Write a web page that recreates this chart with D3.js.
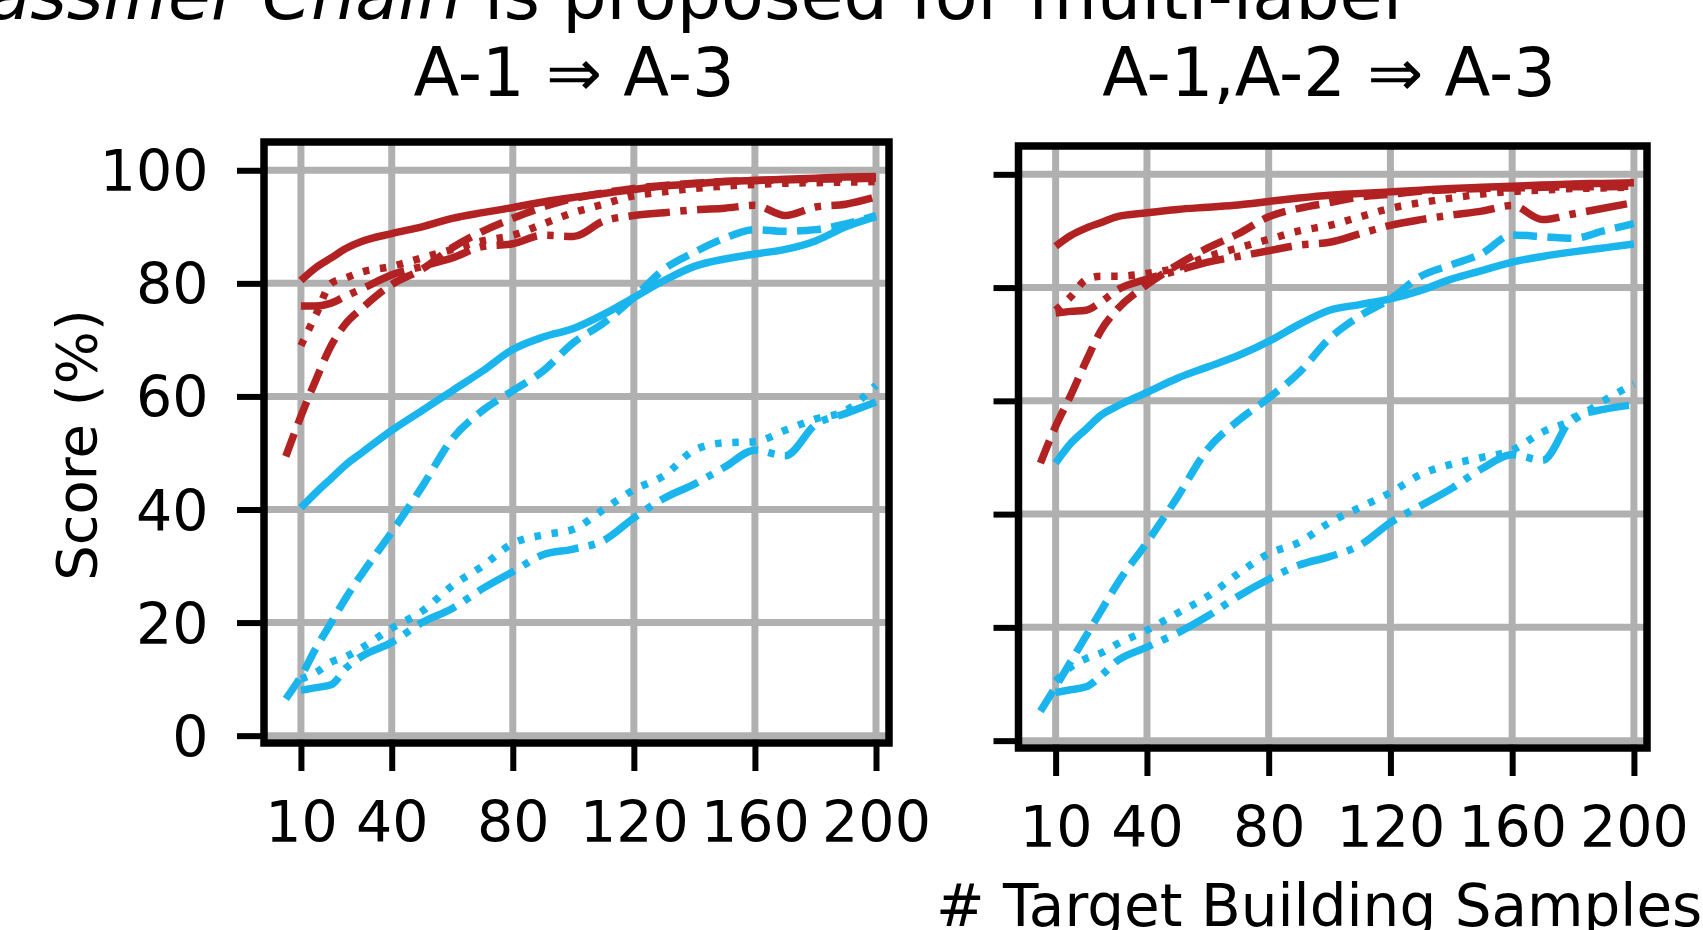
<!DOCTYPE html>
<html>
<head>
  <meta http-equiv="Content-type" content="text/html; charset=utf-8">
  <title>Score vs. target building samples</title>
  <script src="https://d3js.org/d3.v7.min.js"></script>
  <style>
  body { margin: 0; background: #fff; }
  svg { display: block; font-family: "DejaVu Sans", sans-serif; }
  </style>
</head>
<body>
<svg id="stage" width="1703" height="930"></svg>
<script>
// number of target building samples (x); null in a series = no point there
var samples = [5, 10, 15, 20, 25, 30, 40, 50, 60, 70, 80, 90, 100, 110, 120, 130, 140, 150, 160, 170, 180, 190, 200];

// panel 1: A-1 => A-3
var redSolidA    = [null, 80.5, 82.8, 84.5, 86.2, 87.4, 88.8, 90, 91.5, 92.5, 93.4, 94.4, 95.2, 95.9, 96.6, 97.2, 97.6, 98, 98.2, 98.4, 98.6, 98.8, 98.9];
var redDashA     = [49.4, 56.5, 63, 69, 73, 75.5, 79.8, 82.5, 86.3, 89.2, 91.5, 93.5, 95, 96, 96.8, 97.3, 97.7, 98, 98.2, 98.3, 98.4, 98.5, 98.6];
var redDotA      = [null, 69, 74.5, 80, 81, 82, 83, 84.5, 86, 87.5, 88.5, 90.5, 92.5, 94, 95.5, 96.2, 96.8, 97.2, 97.5, 97.7, 97.8, 97.9, 98];
var redDashDotA  = [null, 76, 76, 76.5, 77.8, 79, 81.5, 83, 84.5, 86.5, 87, 88.5, 88.3, 91, 92, 92.5, 93, 93.3, 93.8, 92, 93.5, 94, 95.3];
var cyanSolidA   = [null, 40.3, 43, 45.5, 48, 50, 54, 57.5, 61, 64.5, 68.3, 70.5, 72, 74.5, 77.5, 80.5, 83, 84.3, 85.2, 86, 87.5, 90, 91.8];
var cyanDashA    = [6.5, 10.5, 15.5, 20, 24.5, 28.5, 36, 44, 52.5, 57.5, 61, 64.5, 69.5, 73, 77.5, 82.5, 85.5, 88, 89.5, 89.2, 89.5, 90.5, 92];
var cyanDotA     = [null, 10, 11.2, 13, 14, 15.5, 19, 22, 26.5, 30, 34, 35.5, 36.5, 40, 43.5, 46, 50.5, 51.8, 52, 54, 56, 57.5, 62];
var cyanDashDotA = [null, 8, 8.5, 9, 12, 14, 16.5, 20, 22.5, 26, 29, 32, 33, 34.5, 38.5, 42, 44.5, 47.5, 50.5, 49.5, 55, 57, 59];

// panel 2: A-1,A-2 => A-3
var redSolidB    = [null, 87.3, 89.2, 90.5, 91.5, 92.5, 93.2, 93.8, 94.2, 94.6, 95.2, 95.8, 96.3, 96.6, 96.9, 97.2, 97.5, 97.7, 97.9, 98.1, 98.3, 98.4, 98.5];
var redDashB     = [49, 55.5, 61, 67, 72.5, 76, 80.5, 84, 87, 89.5, 92.5, 94, 95, 96, 96.5, 97, 97.3, 97.5, 97.6, 97.7, 97.8, 97.8, 97.9];
var redDotB      = [null, 76, 78.4, 81.4, 82, 82, 82.5, 83.5, 85.5, 87, 88.5, 90, 91, 92.5, 94, 95, 95.8, 96.5, 97, 97.2, 97.5, 97.6, 97.8];
var redDashDotB  = [null, 75.5, 75.8, 76, 77.5, 79.5, 81.5, 83, 84.5, 85.5, 86.5, 87.5, 88, 89.5, 91, 92, 92.8, 93.5, 94.5, 92, 93, 94, 95];
var cyanSolidB   = [null, 49, 52.5, 55, 57.5, 59, 61.5, 64, 66, 68, 70.5, 73.5, 76, 77, 78, 79.5, 81.5, 83, 84.5, 85.5, 86.3, 87, 87.7];
var cyanDashB    = [5.2, 9.5, 14, 18.5, 23, 27.5, 35, 43, 51.5, 56.5, 60.5, 65, 71, 75, 78, 82, 84, 86, 89.3, 89, 88.7, 90, 91.3];
var cyanDotB     = [null, 10.5, 13, 14.5, 15.5, 17, 19.5, 22.5, 25.5, 29.5, 33, 35, 38.5, 41.2, 43.8, 47, 48.8, 50, 51.3, 54.5, 56.6, 60, 63];
var cyanDashDotB = [null, 8.5, 9, 9.5, 11.5, 14, 16.5, 19, 22, 25.5, 28.5, 31, 32.5, 34.5, 38.5, 41.5, 44.5, 48, 50.5, 49.5, 57, 58.5, 59.3];

var xTicks = [10, 40, 80, 120, 160, 200];
var yTicks = [0, 20, 40, 60, 80, 100];
var titles = ["A-1 \u21D2 A-3", "A-1,A-2 \u21D2 A-3"];

var red = "#b22222";
var cyan = "#1ab5ed";
var lw = 7.5;    // stroke width of the curves
var unit = 6.5;  // base length of the dash patterns
var dashes = {
  solid: null,
  dashed: (3.7 * unit) + "," + (1.6 * unit),
  dotted: unit + "," + (1.65 * unit),
  dashdot: (6.4 * unit) + "," + (1.6 * unit) + "," + unit + "," + (1.6 * unit)
};

var panels = [
  { left: 264, right: 889, top: 142, bottom: 743, title: titles[0], titleX: 574, yLabels: true,
    series: [[cyanDotA, cyan, "dotted"], [cyanDashDotA, cyan, "dashdot"], [cyanDashA, cyan, "dashed"], [cyanSolidA, cyan, "solid"],
             [redDotA, red, "dotted"], [redDashDotA, red, "dashdot"], [redDashA, red, "dashed"], [redSolidA, red, "solid"]] },
  { left: 1018.5, right: 1647, top: 146, bottom: 748, title: titles[1], titleX: 1329, yLabels: false,
    series: [[cyanDotB, cyan, "dotted"], [cyanDashDotB, cyan, "dashdot"], [cyanDashB, cyan, "dashed"], [cyanSolidB, cyan, "solid"],
             [redDotB, red, "dotted"], [redDashDotB, red, "dashdot"], [redDashB, red, "dashed"], [redSolidB, red, "solid"]] }
];

var stage = d3.select("#stage");

// slide text cut off by the top of the picture
stage.append("text")
  .attr("x", 462).attr("y", 19)
  .attr("text-anchor", "end")
  .attr("font-size", 70)
  .attr("font-style", "italic")
  .text("Classifier Chain");
stage.append("text")
  .attr("x", 484).attr("y", 19)
  .attr("font-size", 70)
  .text("is proposed for multi-label");

panels.forEach(function(p, i) {
  var x = d3.scaleLinear().domain([-2.2, 204.3]).range([p.left, p.right]);
  var y = d3.scaleLinear().domain([-1.3, 105]).range([p.bottom, p.top]);
  var g = stage.append("g");

  // clip the curves to the axes box
  g.append("clipPath").attr("id", "clip" + i)
    .append("rect")
      .attr("x", p.left).attr("y", p.top)
      .attr("width", p.right - p.left).attr("height", p.bottom - p.top);

  // grid
  g.append("g").selectAll("line")
    .data(xTicks).enter().append("line")
      .attr("x1", function(d) { return x(d); }).attr("x2", function(d) { return x(d); })
      .attr("y1", p.top).attr("y2", p.bottom)
      .attr("stroke", "#b0b0b0").attr("stroke-width", 7);
  g.append("g").selectAll("line")
    .data(yTicks).enter().append("line")
      .attr("y1", function(d) { return y(d); }).attr("y2", function(d) { return y(d); })
      .attr("x1", p.left).attr("x2", p.right)
      .attr("stroke", "#b0b0b0").attr("stroke-width", 7);

  // curves
  var line = d3.line()
    .x(function(d) { return x(d[0]); })
    .y(function(d) { return y(d[1]); })
    .curve(d3.curveMonotoneX);

  g.append("g").attr("clip-path", "url(#clip" + i + ")")
    .selectAll("path")
    .data(p.series).enter().append("path")
      .attr("d", function(s) {
        var pts = samples.map(function(u, k) { return [u, s[0][k]]; })
          .filter(function(d) { return d[1] != null; });
        return line(pts);
      })
      .attr("fill", "none")
      .attr("stroke", function(s) { return s[1]; })
      .attr("stroke-width", lw)
      .attr("stroke-dasharray", function(s) { return dashes[s[2]]; });

  // axes
  var xAxis = g.append("g")
    .attr("transform", "translate(0," + p.bottom + ")")
    .call(d3.axisBottom(x).tickValues(xTicks).tickSize(28));
  var yAxis = g.append("g")
    .attr("transform", "translate(" + p.left + ",0)")
    .call(d3.axisLeft(y).tickValues(yTicks).tickSize(p.yLabels ? 27 : 25));

  [xAxis, yAxis].forEach(function(a) {
    a.select(".domain").remove();
    a.selectAll(".tick line").attr("stroke", "#000").attr("stroke-width", 6);
    a.selectAll("text").attr("fill", "#000").attr("font-size", 57)
      .attr("font-family", "DejaVu Sans");
  });
  xAxis.selectAll("text").attr("y", 99).attr("dy", null);
  if (p.yLabels) {
    yAxis.selectAll("text").attr("x", -55.5).attr("dy", "0.36em");
  } else {
    yAxis.selectAll("text").remove();
  }

  // frame
  g.append("rect")
    .attr("x", p.left).attr("y", p.top)
    .attr("width", p.right - p.left).attr("height", p.bottom - p.top)
    .attr("fill", "none").attr("stroke", "#000").attr("stroke-width", 7.5);

  // title
  g.append("text")
    .attr("x", p.titleX).attr("y", 96)
    .attr("text-anchor", "middle")
    .attr("font-size", 67)
    .text(p.title);
});

// axis labels
stage.append("text")
  .attr("transform", "translate(96,445) rotate(-90)")
  .attr("text-anchor", "middle")
  .attr("font-size", 56)
  .text("Score (%)");

stage.append("text")
  .attr("x", 936).attr("y", 926)
  .attr("font-size", 58)
  .text("# Target Building Samples");
</script>
</body>
</html>
